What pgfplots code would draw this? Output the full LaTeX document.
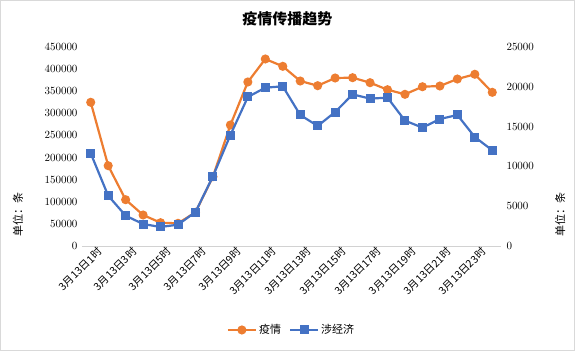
\documentclass[border=0pt]{standalone}
\usepackage{pgfplots}
\pgfplotsset{compat=1.18}
\usepackage{fontspec}
\setmainfont{Noto Sans CJK SC}
\newfontfamily\numfont{DejaVu Sans}
\definecolor{cOrange}{HTML}{ED7D31}
\definecolor{cBlue}{HTML}{4472C4}
\begin{document}
\begin{tikzpicture}
\path[use as bounding box] (-82pt,-105pt) rectangle (493pt,246pt);
\draw[color=gray!30, line width=1pt] (-81.5pt,-104.5pt) rectangle (492.5pt,245.5pt);
\begin{axis}[
  at={(0,0)}, anchor=south west,
  scale only axis, width=419pt, height=199pt,
  xmin=-0.5, xmax=23.5, ymin=0, ymax=450000,
  axis x line*=bottom, axis y line*=left,
  y axis line style={draw=none},
  x axis line style={draw=gray!35, line width=1pt, -},
  tick style={draw=none},
  ytick={0,50000,100000,150000,200000,250000,300000,350000,400000,450000},
  scaled y ticks=false,
  yticklabel={\pgfmathprintnumber[fixed,precision=0,1000 sep={}]{\tick}},
  yticklabel style={font=\numfont\fontsize{10.5}{12}\selectfont, xshift=-1pt},
  xtick={0,2,...,22},
  xticklabels={3月13日1时,3月13日3时,3月13日5时,3月13日7时,3月13日9时,3月13日11时,3月13日13时,3月13日15时,3月13日17时,3月13日19时,3月13日21时,3月13日23时},
  xticklabel style={font=\fontsize{10.5}{12}\selectfont, rotate=45, anchor=east, inner sep=1pt, yshift=-9pt, xshift=5pt},
  title={疫情传播趋势},
  title style={font=\fontsize{15}{18}\selectfont\bfseries, at={(rel axis cs:0.49,1.11)}, anchor=center},
  ylabel={单位：条},
  ylabel style={font=\fontsize{11}{13}\selectfont, at={(rel axis cs:-0.153,0.156)}, anchor=center},
  legend style={at={(rel axis cs:0.5,-0.422)}, anchor=center, draw=none, legend columns=2,
    font=\fontsize{11}{13}\selectfont, /tikz/every even column/.append style={column sep=6pt}},
  legend image code/.code={\draw[#1, mark repeat=2, mark phase=2] plot coordinates {(0pt,0pt) (14pt,0pt) (28pt,0pt)};},
]
\addplot[color=cOrange, line width=2.2pt, mark=*, mark size=3.4pt, mark options={solid}] coordinates {
(0,325000)(1,181600)(2,104700)(3,70100)(4,52700)(5,51300)(6,76200)(7,156700)(8,273600)(9,370900)(10,422900)(11,406300)
(12,373100)(13,362500)(14,379900)(15,380600)(16,369300)(17,353400)(18,343000)(19,360200)(20,361800)(21,377600)(22,388300)(23,347500)};
\addlegendentry{疫情}
\addlegendimage{color=cBlue, line width=2.2pt, mark=square*, mark size=3.4pt}
\addlegendentry{涉经济}
\end{axis}
\begin{axis}[
  at={(0,0)}, anchor=south west,
  scale only axis, width=419pt, height=199pt,
  xmin=-0.5, xmax=23.5, ymin=0, ymax=25000,
  axis x line=none, axis y line*=right,
  y axis line style={draw=none},
  tick style={draw=none},
  ytick={0,5000,10000,15000,20000,25000},
  scaled y ticks=false,
  yticklabel={\pgfmathprintnumber[fixed,precision=0,1000 sep={}]{\tick}},
  yticklabel style={font=\numfont\fontsize{10.5}{12}\selectfont, xshift=2pt},
  ylabel={单位：条},
  ylabel style={font=\fontsize{11}{13}\selectfont, at={(rel axis cs:1.141,0.156)}, anchor=center, rotate=0},
]
\addplot[color=cBlue, line width=2.2pt, mark=square*, mark size=3.4pt, mark options={solid}] coordinates {
(0,11640)(1,6320)(2,3810)(3,2760)(4,2390)(5,2680)(6,4270)(7,8750)(8,13940)(9,18720)(10,19890)(11,20060)
(12,16460)(13,15080)(14,16830)(15,19050)(16,18510)(17,18640)(18,15750)(19,14870)(20,15950)(21,16460)(22,13690)(23,12020)};
\end{axis}
\end{tikzpicture}
\end{document}
